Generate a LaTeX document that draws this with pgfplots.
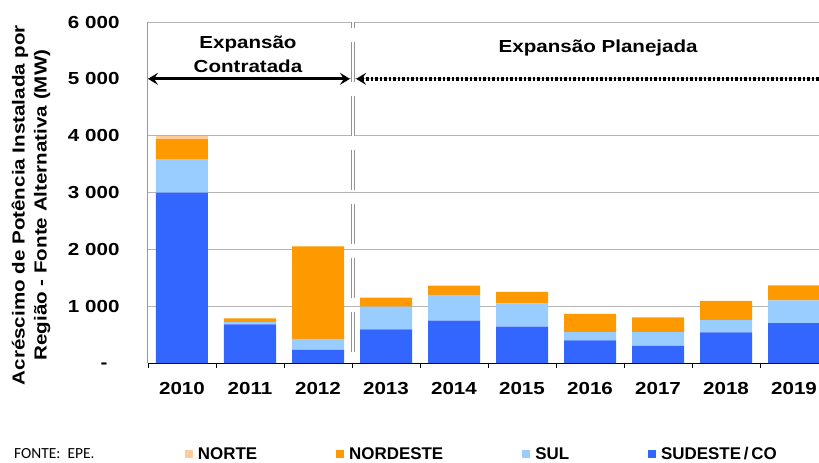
\documentclass[border=0pt]{standalone}
\usepackage{fontspec}
\setmainfont{Liberation Sans}[FakeStretch=1.18]
\newfontfamily\legfont{Liberation Sans}
\newfontfamily\srcfont{Carlito}
\usepackage{pgfplots}
\pgfplotsset{compat=1.18}
\usetikzlibrary{arrows.meta}
\definecolor{sudeste}{HTML}{3366FF}
\definecolor{sul}{HTML}{99CCFF}
\definecolor{nordeste}{HTML}{FF9900}
\definecolor{norte}{HTML}{FFCC99}
\definecolor{gridc}{HTML}{B4B4B4}
\pgfplotsset{sq/.style={draw=none, legend image code/.code={\fill[##1] (0bp,-4bp) rectangle (8bp,4bp);}}}
\begin{document}
\begin{tikzpicture}
\begin{axis}[
  at={(0,0)}, anchor=south west,
  width=680bp, height=341bp, scale only axis,
  xmin=-0.5, xmax=9.5, ymin=0, ymax=6000,
  clip=false,
  ybar stacked, bar width=52bp,
  axis x line=bottom, axis y line=left,
  x axis line style={-, black, line width=1bp},
  y axis line style={-, gray!80, line width=1bp},
  xtick={-0.5,0.5,1.5,2.5,3.5,4.5,5.5,6.5,7.5,8.5,9.5},
  x tick label as interval,
  xticklabels={2010,2011,2012,2013,2014,2015,2016,2017,2018,2019},
  tick align=outside, major tick length=5bp,
  xtick style={black, line width=0.8bp},
  ytick={0,1000,2000,3000,4000,5000,6000},
  yticklabels={\raisebox{-5bp}[0pt][0pt]{-}\hspace*{12bp},1 000,2 000,3 000,4 000,5 000,6 000},
  ytick style={draw=none},
  ymajorgrids, grid style={gridc, line width=1bp},
  tick label style={font=\bfseries\fontsize{17.5}{20}\selectfont},
  xticklabel style={yshift=-11bp},
  yticklabel style={xshift=-20bp},
  ylabel={Acréscimo de Potência Instalada por\\Região - Fonte Alternativa (MW)},
  ylabel style={at={(axis description cs:-0.172,0.463)}, anchor=center, align=center, font=\bfseries\fontsize{17.5}{22}\selectfont},
  legend columns=4,
  legend style={at={(axis description cs:0.054,-0.268)}, anchor=west, draw=none, fill=none, inner sep=0pt,
    font=\legfont\bfseries\fontsize{17}{19}\selectfont,
    /tikz/every even column/.append style={column sep=77bp},
    /tikz/every odd column/.append style={column sep=3bp}},
]
\addlegendimage{sq, fill=norte}
\addlegendentry{NORTE}
\addlegendimage{sq, fill=nordeste}
\addlegendentry{NORDESTE}
\addlegendimage{sq, fill=sul}
\addlegendentry{SUL}
\addlegendimage{sq, fill=sudeste}
\addlegendentry{SUDESTE\,/\,CO}

\addplot[fill=sudeste, draw=none, forget plot] coordinates {(0,3000) (1,680) (2,230) (3,590) (4,745) (5,640) (6,400) (7,300) (8,540) (9,700)};
\addplot[fill=sul, draw=none, forget plot] coordinates {(0,580) (1,40) (2,195) (3,400) (4,455) (5,410) (6,145) (7,245) (8,215) (9,400)};
\addplot[fill=nordeste, draw=none, forget plot] coordinates {(0,360) (1,65) (2,1625) (3,160) (4,160) (5,200) (6,320) (7,260) (8,340) (9,265)};
\addplot[fill=norte, draw=none, forget plot] coordinates {(0,60) (1,0) (2,0) (3,0) (4,0) (5,0) (6,0) (7,0) (8,0) (9,0)};

\draw[gray!85, line width=1.1bp, double=white, double distance=1.8bp, dash pattern=on 40bp off 14bp, dash phase=34bp] (axis cs:2.52,6000) -- (axis cs:2.52,0);
\draw[black, line width=3bp, {Stealth[length=10bp,width=12bp,inset=4bp]}-{Stealth[length=10bp,width=12bp,inset=4bp]}] (axis cs:-0.5,5000) -- (axis cs:2.47,5000);
\draw[black, line width=4bp, dash pattern=on 2.5bp off 2bp, {Stealth[length=10bp,width=12bp,inset=4bp]}-] (axis cs:2.56,5000) -- (axis cs:9.5,5000);
\node[align=center, font=\bfseries\fontsize{17.5}{24}\selectfont] at (axis cs:0.97,5437) {Expansão\\Contratada};
\node[font=\bfseries\fontsize{17.5}{20}\selectfont] at (axis cs:6.12,5543) {Expansão Planejada};
\node[anchor=base west, font=\srcfont\fontsize{15.5}{17}\selectfont, inner sep=0pt] at (axis description cs:-0.197,-0.279) {FONTE:\ \ EPE.};
\end{axis}
\pgfresetboundingbox
\useasboundingbox (-148bp,-100bp) rectangle (671bp,363bp);
\end{tikzpicture}
\end{document}
